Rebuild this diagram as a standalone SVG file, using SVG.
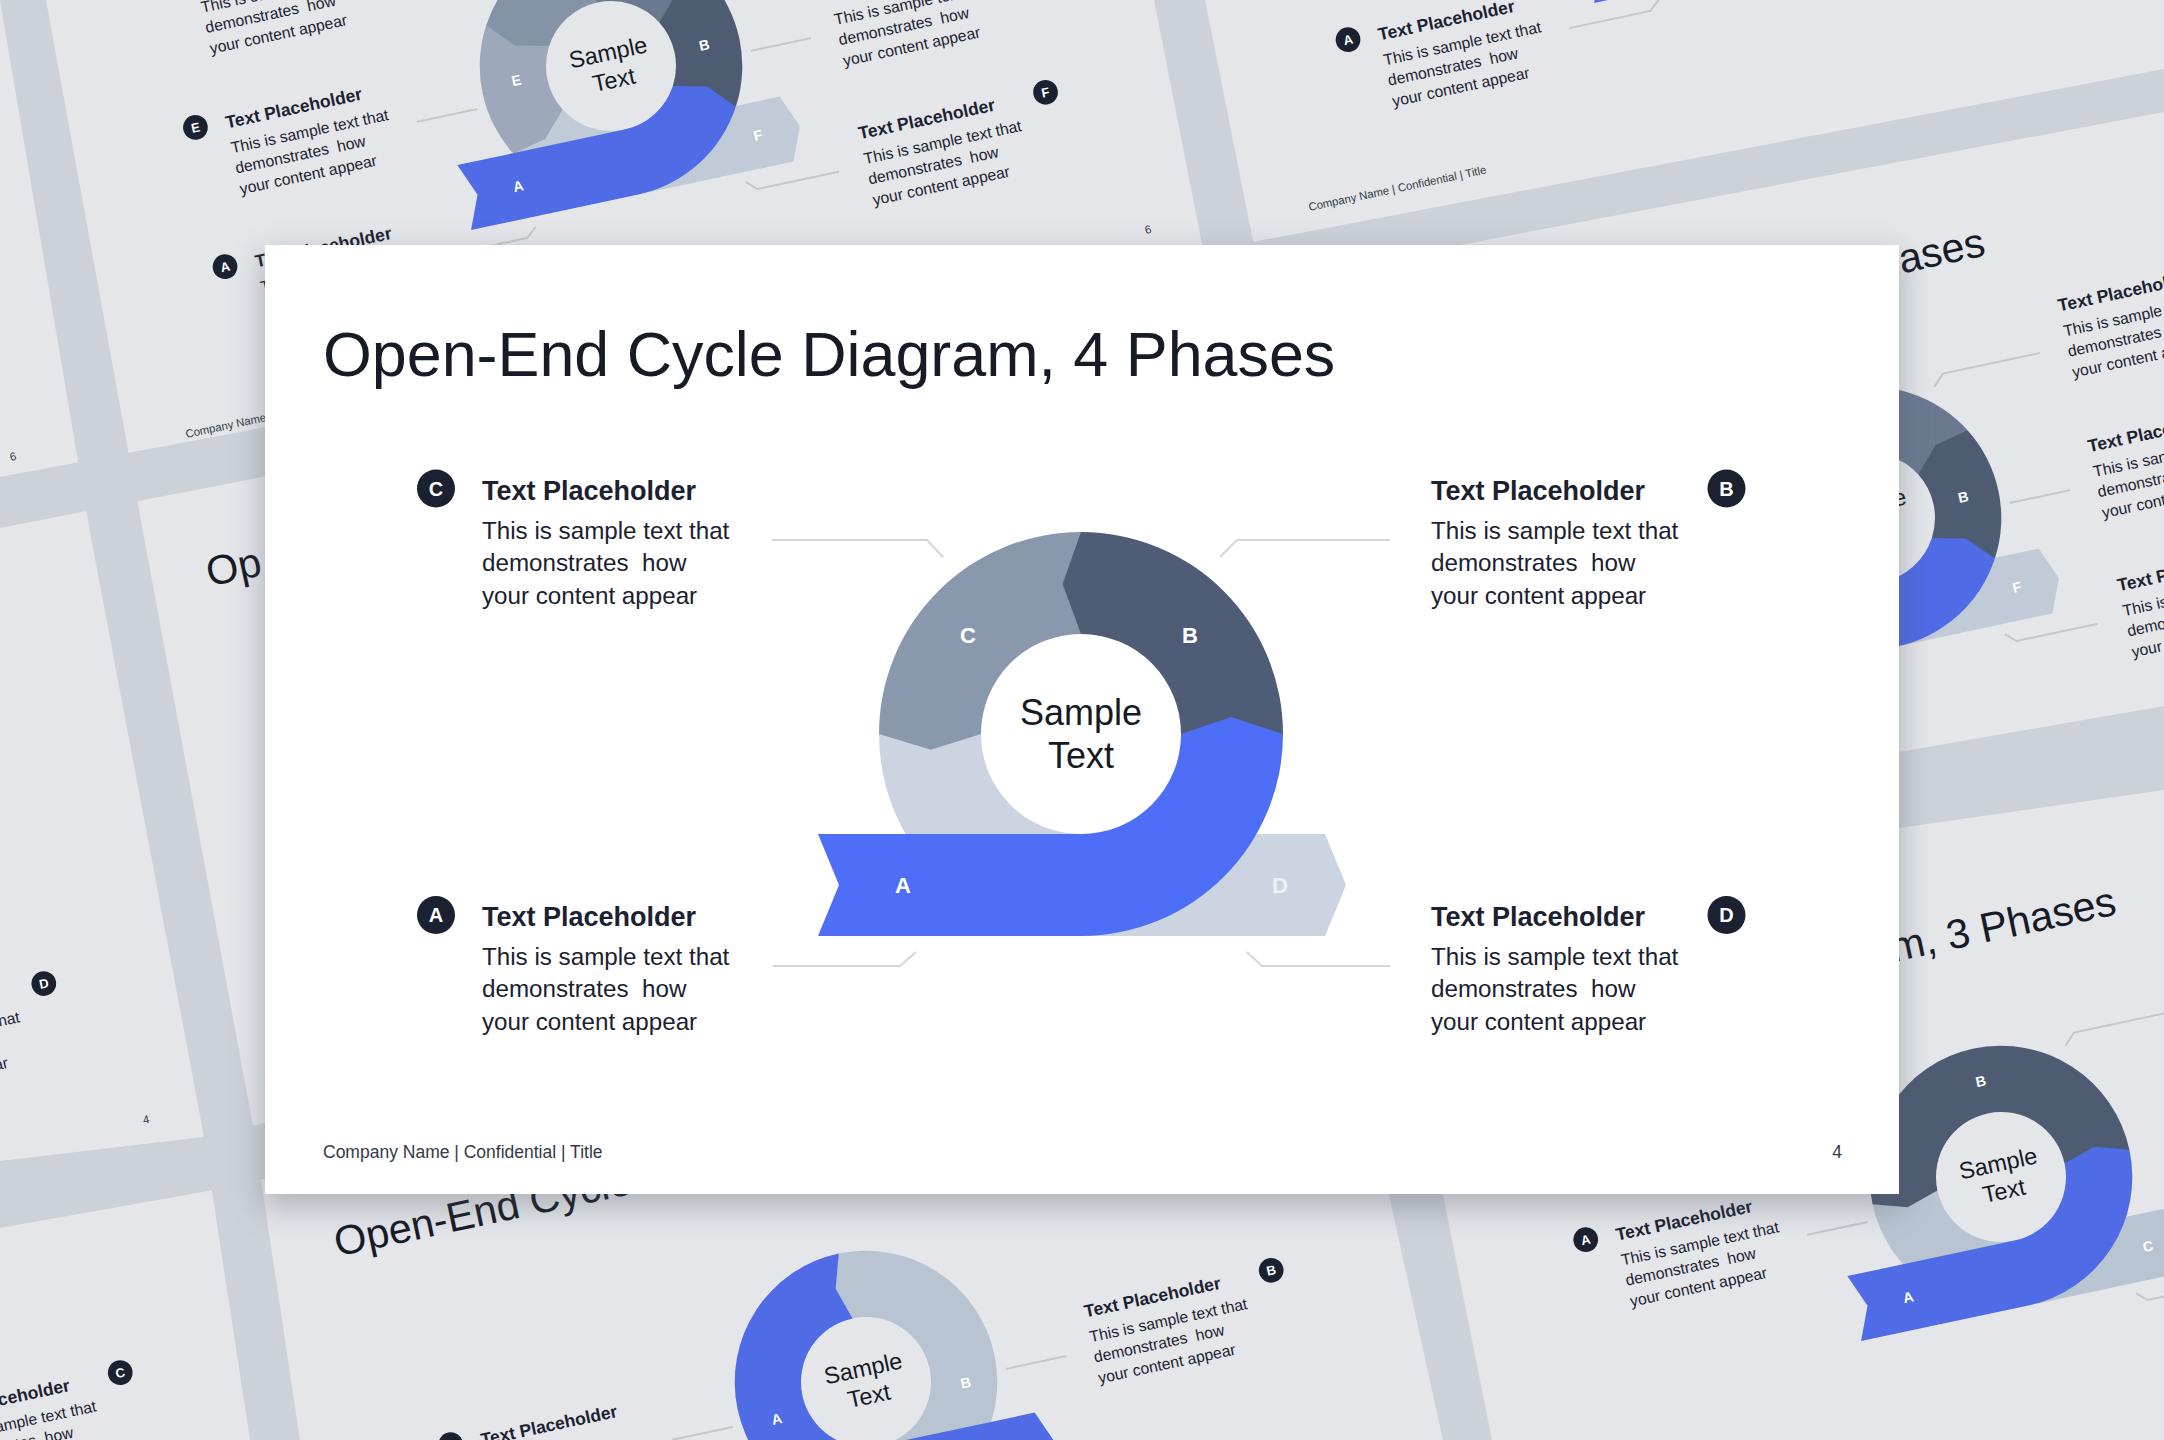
<svg xmlns="http://www.w3.org/2000/svg" width="2164" height="1440" viewBox="0 0 2164 1440">
<defs>
<style>
text{font-family:"Liberation Sans",Arial,sans-serif}
.h{font-size:27px;font-weight:700;fill:#1b2130}
.b{font-size:24.2px;fill:#1b2130}
.bl{font-size:20px;font-weight:700;fill:#fff;text-anchor:middle}
.sl{font-size:22px;font-weight:700;fill:#fff;text-anchor:middle}
.st{font-size:36px;fill:#151a24;text-anchor:middle}
.ttl{font-size:63.5px;fill:#161b26}
.mt{font-size:62.8px;fill:#161b26}
.ft{font-size:17.5px;fill:#333a45}
.pg{font-size:17.5px;fill:#333a45;text-anchor:middle}
.bd{fill:#1b2130}
.ln{fill:none;stroke:#d3d5d9;stroke-width:2}
.bgl{fill:none;stroke:#c3c7cd;stroke-width:3}
.gut{fill:#CDD2D9}
</style>
<filter id="sh" x="-10%" y="-10%" width="120%" height="120%"><feGaussianBlur stdDeviation="16"/></filter>
<g id="r6">
<path fill="#C1CAD7" d="M-174.9,101 A202,202 0 0 0 0,202 L244,202 L265,151 L244,100 L0,100 A100,100 0 0 1 -86.6,50 Z"/>
<path fill="#9DA9BB" d="M-174.9,-101 A202,202 0 0 0 -174.9,101 L-122.2,88.8 L-86.6,50 A100,100 0 0 1 -86.6,-50 Z"/>
<path fill="#8593A8" d="M0,-202 A202,202 0 0 0 -174.9,-101 L-137.9,-61.4 L-86.6,-50 A100,100 0 0 1 0,-100 Z"/>
<path fill="#6B7990" d="M174.9,-101 A202,202 0 0 0 0,-202 L-15.8,-150.2 L0,-100 A100,100 0 0 1 86.6,-50 Z"/>
<path fill="#4E5C73" d="M174.9,101 A202,202 0 0 0 174.9,-101 L122.2,-88.8 L86.6,-50 A100,100 0 0 1 86.6,50 Z"/>
<path fill="#4F6BE6" d="M-263,100 L0,100 A100,100 0 0 0 86.6,50 L137.9,61.4 L174.9,101 A202,202 0 0 1 0,202 L-263,202 L-242,151 Z"/>
</g>
<g id="r3">
<path fill="#B9C4D2" d="M-202,0 A202,202 0 0 0 0,202 L244,202 L265,151 L244,100 L0,100 A100,100 0 0 1 -100,0 Z"/>
<path fill="#4E5C73" d="M202,0 A202,202 0 0 0 -202,0 L-150.2,15.8 L-100,0 A100,100 0 0 1 100,0 Z"/>
<path fill="#4F6BE6" d="M-263,100 L0,100 A100,100 0 0 0 100,0 L150.2,-15.8 L202,0 A202,202 0 0 1 0,202 L-263,202 L-242,151 Z"/>
</g>
<g id="r2">
<path fill="#4F6BE6" d="M0,-202 A202,202 0 0 0 0,202 L0,100 A100,100 0 0 1 0,-100 Z"/>
<path fill="#B9C4D2" d="M0,202 A202,202 0 0 0 0,-202 L-15.8,-150.2 L0,-100 A100,100 0 0 1 0,100 Z"/>
<path fill="#4F6BE6" d="M0,100 L244,100 L265,151 L244,202 L0,202 Z"/>
</g>
</defs>

<g id="background">
<rect width="2164" height="1440" fill="#E4E6EA"/>
<polygon class="gut" points="0,0 46,0 143,532 253,1126 300,1440 250,1440 202,1126 90,532"/>
<polygon class="gut" points="1154,0 1205,0 1443,1195 1492,1440 1443,1440 1389,1195"/>
<polygon class="gut" points="0,477 1263,240 2164,69 2164,112 1263,282 0,528"/>
<polygon class="gut" points="0,1161 203,1137 1899,752 2164,706 2164,790 1899,828 203,1192 0,1228"/>

<text class="pg" transform="translate(-524,293) rotate(-12) scale(0.65)" x="756" y="424">6</text>

<g transform="translate(611,66) rotate(-12) scale(0.65)">
<use href="#r6"/>
<text class="sl" x="147" y="6">B</text><text class="sl" x="-147" y="-1">E</text><text class="sl" x="199" y="159">F</text><text class="sl" x="-178" y="159">A</text>
<text class="st" x="0" y="-9">Sample</text><text class="st" x="0" y="34">Text</text>
<circle class="bd" cx="-645" cy="-261.5" r="19"/><text class="bl" x="-645" y="-254.3">D</text>
<text class="b" x="-598" y="-211">This is sample text that</text><text class="b" x="-598" y="-179" xml:space="preserve">demonstrates  how</text><text class="b" x="-598" y="-146">your content appear</text>
<circle class="bd" cx="-645" cy="-40.5" r="19"/><text class="bl" x="-645" y="-33.3">E</text>
<text class="h" x="-598" y="-29">Text Placeholder</text><text class="b" x="-598" y="10">This is sample text that</text><text class="b" x="-598" y="42" xml:space="preserve">demonstrates  how</text><text class="b" x="-598" y="75">your content appear</text>
<circle class="bd" cx="-645" cy="178.5" r="19"/><text class="bl" x="-645" y="185.7">A</text>
<text class="h" x="-598" y="190">Text Placeholder</text><text class="b" x="-598" y="229">This is sample text that</text>
<text class="h" x="351" y="-29">Text Placeholder</text><text class="b" x="351" y="10">This is sample text that</text><text class="b" x="351" y="42" xml:space="preserve">demonstrates  how</text><text class="b" x="351" y="75">your content appear</text>
<circle class="bd" cx="645.5" cy="178.5" r="19"/><text class="bl" x="645.5" y="185.7">F</text>
<text class="h" x="351" y="190">Text Placeholder</text><text class="b" x="351" y="229">This is sample text that</text><text class="b" x="351" y="261" xml:space="preserve">demonstrates  how</text><text class="b" x="351" y="294">your content appear</text>
<polyline class="bgl" points="-310,22 -215,22"/><polyline class="bgl" points="215,22 310,22"/>
<polyline class="bgl" points="-308,232 -181,232 -165,218"/><polyline class="bgl" points="166,218 181,232 309,232"/>
<text class="ft" x="-758" y="424">Company Name | Confidential | Title</text>
<text class="pg" x="756" y="424">6</text>
</g>

<g transform="translate(1734,-161) rotate(-12) scale(0.65)">
<use href="#r6"/>
<circle class="bd" cx="-645" cy="178.5" r="19"/><text class="bl" x="-645" y="185.7">A</text>
<text class="h" x="-598" y="190">Text Placeholder</text><text class="b" x="-598" y="229">This is sample text that</text><text class="b" x="-598" y="261" xml:space="preserve">demonstrates  how</text><text class="b" x="-598" y="294">your content appear</text>
<polyline class="bgl" points="-308,232 -181,232 -165,218"/>
<text class="ft" x="-758" y="424">Company Name | Confidential | Title</text>
</g>

<g transform="translate(1870,518) rotate(-12) scale(0.65)">
<use href="#r6"/>
<text class="sl" x="147" y="6">B</text><text class="sl" x="199" y="159">F</text>
<text class="st" x="0" y="-9">Sample</text>
<text class="ttl" x="260" y="-358" text-anchor="end">Phases</text>
<text class="h" x="351" y="-250">Text Placeholder</text><text class="b" x="351" y="-211">This is sample text that</text><text class="b" x="351" y="-179" xml:space="preserve">demonstrates  how</text><text class="b" x="351" y="-146">your content appear</text>
<text class="h" x="351" y="-29">Text Placeholder</text><text class="b" x="351" y="10">This is sample text that</text><text class="b" x="351" y="42" xml:space="preserve">demonstrates  how</text><text class="b" x="351" y="75">your content appear</text>
<text class="h" x="351" y="190">Text Placeholder</text><text class="b" x="351" y="229">This is sample text that</text><text class="b" x="351" y="261" xml:space="preserve">demonstrates  how</text><text class="b" x="351" y="294">your content appear</text>
<polyline class="bgl" points="139,-177 156,-194 309,-194"/><polyline class="bgl" points="215,22 310,22"/><polyline class="bgl" points="166,218 181,232 309,232"/>
</g>

<g transform="translate(-391,956) rotate(-12) scale(0.65)">
<circle class="bd" cx="645.5" cy="-245.5" r="19"/><text class="bl" x="645.5" y="-238.3">B</text>
<circle class="bd" cx="645.5" cy="180.5" r="19"/><text class="bl" x="645.5" y="187.7">D</text>
<text class="b" x="351" y="231">This is sample text that</text><text class="b" x="351" y="296">your content appear</text>
<text class="pg" x="756" y="424">4</text>
</g>

<g transform="translate(738,712) rotate(-12) scale(0.65)">
<text class="ttl" x="-755" y="-358">Op</text>
</g>

<g transform="translate(-257,1616) rotate(-12) scale(0.65)">
<circle class="bd" cx="645.5" cy="-245.5" r="19"/><text class="bl" x="645.5" y="-238.3">C</text>
<text class="h" x="351" y="-234">Text Placeholder</text><text class="b" x="351" y="-195">This is sample text that</text><text class="b" x="351" y="-163" xml:space="preserve">demonstrates  how</text>
</g>

<g transform="translate(866,1382) rotate(-12) scale(0.65)">
<use href="#r2"/>
<text class="sl" x="-146" y="35">A</text><text class="sl" x="150" y="41">B</text>
<text class="st" x="0" y="-9">Sample</text><text class="st" x="0" y="34">Text</text>
<text class="ttl" x="-755" y="-358">Open-End Cycle</text>
<circle class="bd" cx="-645" cy="-38.5" r="19"/><text class="bl" x="-645" y="-31.3">A</text>
<text class="h" x="-598" y="-27">Text Placeholder</text>
<circle class="bd" cx="645.5" cy="-38.5" r="19"/><text class="bl" x="645.5" y="-31.3">B</text>
<text class="h" x="351" y="-27">Text Placeholder</text><text class="b" x="351" y="12">This is sample text that</text><text class="b" x="351" y="44" xml:space="preserve">demonstrates  how</text><text class="b" x="351" y="77">your content appear</text>
<polyline class="bgl" points="-310,25 -215,25"/><polyline class="bgl" points="215,25 310,25"/>
</g>

<g transform="translate(2001,1177) rotate(-12) scale(0.65)">
<use href="#r3"/>
<text class="sl" x="0" y="-143">B</text><text class="sl" x="-178" y="159">A</text><text class="sl" x="199" y="159">C</text>
<text class="st" x="0" y="-9">Sample</text><text class="st" x="0" y="34">Text</text>
<text class="ttl" x="260" y="-358" text-anchor="end">m, 3 Phases</text>
<circle class="bd" cx="-645" cy="-38.5" r="19"/><text class="bl" x="-645" y="-31.3">A</text>
<text class="h" x="-598" y="-27">Text Placeholder</text><text class="b" x="-598" y="12">This is sample text that</text><text class="b" x="-598" y="44" xml:space="preserve">demonstrates  how</text><text class="b" x="-598" y="77">your content appear</text>
<polyline class="bgl" points="-310,25 -215,25"/><polyline class="bgl" points="139,-177 156,-194 309,-194"/><polyline class="bgl" points="166,218 181,232 309,232"/>
</g>
</g>

<rect x="262" y="254" width="1640" height="954" fill="#4d5663" opacity="0.35" filter="url(#sh)"/>
<g id="slide">
<rect x="265" y="245" width="1634" height="949" fill="#fff"/>
<text class="mt" x="323" y="376">Open-End Cycle Diagram, 4 Phases</text>
<text class="ft" x="323" y="1158">Company Name | Confidential | Title</text>
<text class="pg" x="1837" y="1158">4</text>
</g>

<g id="cycle" transform="translate(1081,734)">
<g id="seg-d"><path fill="#CBD4E0" d="M-202,0 A202,202 0 0 0 0,202 L244,202 L265,151 L244,100 L0,100 A100,100 0 0 1 -100,0 Z"/><text class="sl" x="199" y="159" style="fill:#eef2f6">D</text></g>
<g id="seg-c"><path fill="#8A98AE" d="M0,-202 A202,202 0 0 0 -202,0 L-150.2,15.8 L-100,0 A100,100 0 0 1 0,-100 Z"/><text class="sl" x="-113" y="-91">C</text></g>
<g id="seg-b"><path fill="#4E5D75" d="M202,0 A202,202 0 0 0 0,-202 L-18.4,-150 L0,-100 A100,100 0 0 1 100,0 Z"/><text class="sl" x="109" y="-91">B</text></g>
<g id="seg-a"><path fill="#4F6EF7" d="M-263,100 L0,100 A100,100 0 0 0 100,0 L150,-17 L202,0 A202,202 0 0 1 0,202 L-263,202 L-242,151 Z"/><text class="sl" x="-178" y="159">A</text></g>
<g id="center"><text class="st" x="0" y="-9">Sample</text><text class="st" x="0" y="34">Text</text></g>
</g>

<g id="connectors">
<polyline class="ln" points="772,540 927,540 943,557"/>
<polyline class="ln" points="1220,557 1237,540 1390,540"/>
<polyline class="ln" points="773,966 900,966 916,952"/>
<polyline class="ln" points="1247,952 1262,966 1390,966"/>
</g>

<g id="node-c"><circle class="bd" cx="436" cy="488.5" r="19"/><text class="bl" x="436" y="495.7">C</text><text class="h" x="482" y="500">Text Placeholder</text><text class="b" x="482" y="539">This is sample text that</text><text class="b" x="482" y="571" xml:space="preserve">demonstrates  how</text><text class="b" x="482" y="604">your content appear</text></g>
<g id="node-b"><circle class="bd" cx="1726.5" cy="488.5" r="19"/><text class="bl" x="1726.5" y="495.7">B</text><text class="h" x="1431" y="500">Text Placeholder</text><text class="b" x="1431" y="539">This is sample text that</text><text class="b" x="1431" y="571" xml:space="preserve">demonstrates  how</text><text class="b" x="1431" y="604">your content appear</text></g>
<g id="node-a"><circle class="bd" cx="436" cy="915" r="19"/><text class="bl" x="436" y="922.2">A</text><text class="h" x="482" y="926">Text Placeholder</text><text class="b" x="482" y="965">This is sample text that</text><text class="b" x="482" y="997" xml:space="preserve">demonstrates  how</text><text class="b" x="482" y="1030">your content appear</text></g>
<g id="node-d"><circle class="bd" cx="1726.5" cy="915" r="19"/><text class="bl" x="1726.5" y="922.2">D</text><text class="h" x="1431" y="926">Text Placeholder</text><text class="b" x="1431" y="965">This is sample text that</text><text class="b" x="1431" y="997" xml:space="preserve">demonstrates  how</text><text class="b" x="1431" y="1030">your content appear</text></g>
</svg>
